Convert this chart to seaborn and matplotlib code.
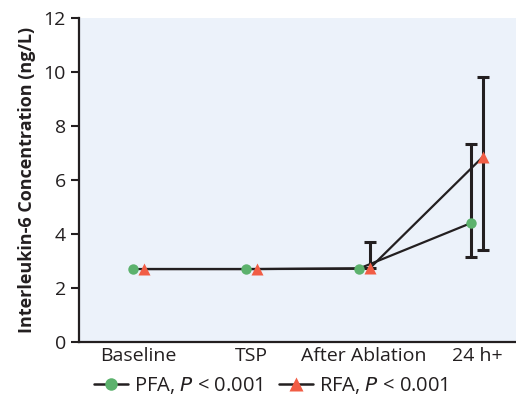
import numpy as np
import pandas as pd
import seaborn as sns
import matplotlib.pyplot as plt

# data
timepoints = ['Baseline', 'TSP', 'After Ablation', '24 h+']
pfa_mean = [2.70, 2.70, 2.71, 4.41]
pfa_low = [2.70, 2.70, 2.71, 3.13]
pfa_high = [2.70, 2.70, 2.71, 7.32]
rfa_mean = [2.70, 2.70, 2.73, 6.85]
rfa_low = [2.70, 2.70, 2.73, 3.40]
rfa_high = [2.70, 2.70, 3.69, 9.80]

sns.set_style('white')
plt.rcParams['font.family'] = ['Open Sans', 'DejaVu Sans']

green = '#5cb26d'
red = '#f15d45'
ink = '#231f20'

pos = np.arange(len(timepoints))
shift = 0.05
df = pd.concat([
    pd.DataFrame({'x': pos - shift, 'y': pfa_mean, 'group': 'PFA'}),
    pd.DataFrame({'x': pos + shift, 'y': rfa_mean, 'group': 'RFA'}),
])

fig = plt.figure(figsize=(5.16, 4.09), dpi=100)
ax = fig.add_axes([0.153, 0.164, 0.847, 0.792])
ax.set_facecolor('#ecf2fa')

# error bars (only where the spread is visible)
for m, lo, hi, off in [(pfa_mean, pfa_low, pfa_high, -shift),
                       (rfa_mean, rfa_low, rfa_high, shift)]:
    m = np.array(m); lo = np.array(lo); hi = np.array(hi)
    show = (hi - lo) > 0
    ax.errorbar(pos[show] + off, m[show], yerr=[m[show] - lo[show], hi[show] - m[show]],
                fmt='none', ecolor=ink, elinewidth=2.2, capsize=4, capthick=2.2, zorder=2)

sns.lineplot(data=df, x='x', y='y', hue='group', style='group',
             palette={'PFA': ink, 'RFA': ink}, markers=False, dashes=False,
             linewidth=1.6, legend=False, ax=ax, zorder=3, sort=False)
ax.plot(pos - shift, pfa_mean, 'o', color=green, ms=7.5, mec='none', zorder=4)
ax.plot(pos + shift, rfa_mean, '^', color=red, ms=9, mec='none', zorder=4)

ax.set_xlim(-0.527, 3.345)
ax.set_ylim(0, 12)
ax.set_yticks(range(0, 13, 2))
ax.set_xticks(pos)
ax.set_xticklabels(timepoints)
ax.set_xlabel('')
ax.set_ylabel('Interleukin-6 Concentration (ng/L)', fontsize=13, fontweight='bold',
              color=ink, labelpad=5)
ax.tick_params(axis='y', length=6, width=1.5, colors=ink, labelsize=14, direction='out', left=True)
ax.tick_params(axis='x', length=0, colors=ink, labelsize=14, pad=4)
for s in ['top', 'right']:
    ax.spines[s].set_visible(False)
for s in ['left', 'bottom']:
    ax.spines[s].set_color(ink)
    ax.spines[s].set_linewidth(1.6)

h1, = ax.plot([], [], '-o', color=ink, mfc=green, mec='none', ms=9, lw=1.8)
h2, = ax.plot([], [], '-^', color=ink, mfc=red, mec='none', ms=10, lw=1.8)
leg = fig.legend([h1, h2], ['PFA, $\\mathit{P}$ < 0.001', 'RFA, $\\mathit{P}$ < 0.001'],
                 loc='center', bbox_to_anchor=(0.525, 0.057), ncol=2, frameon=False,
                 fontsize=14.5, handlelength=1.7, handletextpad=0.3, columnspacing=0.8)
for t in leg.get_texts():
    t.set_color(ink)

fig.savefig('out.png', dpi=100)
